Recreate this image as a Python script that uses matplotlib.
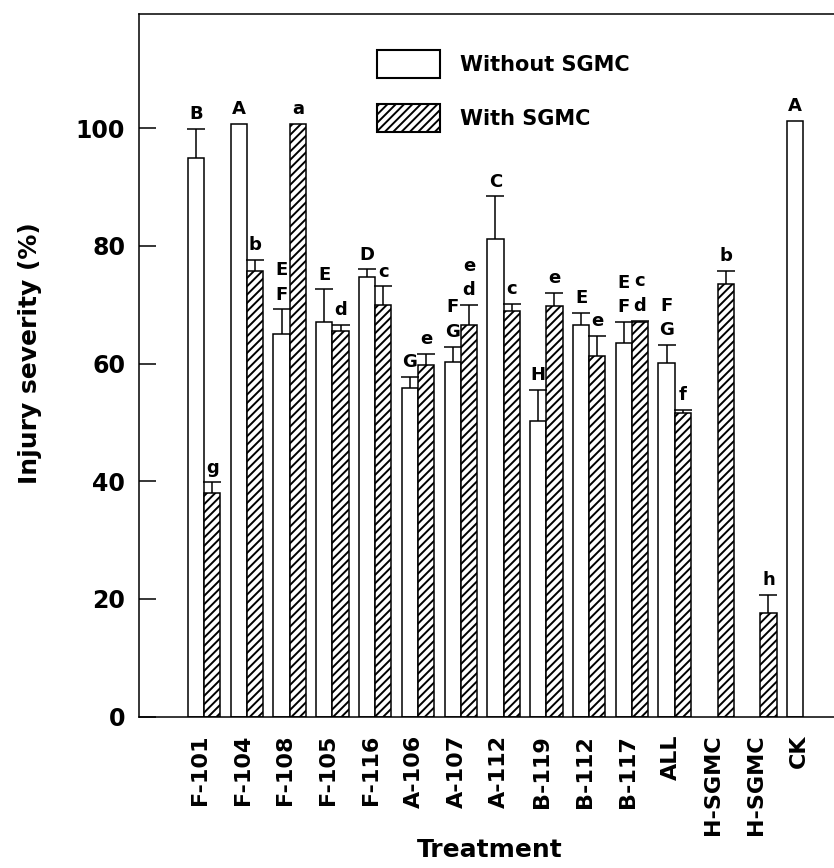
import numpy as np
import matplotlib
matplotlib.use('Agg')
import matplotlib.pyplot as plt
from matplotlib.patches import Patch

nan = np.nan

# treatments along the x axis
treatments = ['F-101', 'F-104', 'F-108', 'F-105', 'F-116', 'A-106', 'A-107', 'A-112',
              'B-119', 'B-112', 'B-117', 'ALL', 'H-SGMC', 'H-SGMC', 'CK']

# injury severity (%) without SGMC and its error
without_sgmc = [94.9, 100.7, 65.0, 67.0, 74.7, 55.8, 60.2, 81.1, 50.3, 66.5, 63.5, 60.1, nan, nan, 101.3]
without_err = [4.9, 0, 4.2, 5.6, 1.3, 2.0, 2.7, 7.3, 5.2, 2.1, 3.5, 3.1, nan, nan, 0]

# injury severity (%) with SGMC and its error
with_sgmc = [38.0, 75.8, 100.7, 65.6, 70.0, 59.7, 66.6, 68.9, 69.7, 61.3, 67.0, 51.6, 73.5, 17.7, nan]
with_err = [1.8, 1.8, 0, 1.0, 3.1, 1.9, 3.4, 1.2, 2.3, 3.4, 0.3, 0.5, 2.2, 3.0, nan]

# significance letters
without_letters = ['B', 'A', 'E\nF', 'E', 'D', 'G', 'F\nG', 'C', 'H', 'E', 'E\nF', 'F\nG', '', '', 'A']
with_letters = ['g', 'b', 'a', 'd', 'c', 'e', 'e\nd', 'c', 'e', 'e', 'c\nd', 'f', 'b', 'h', '']

plt.rcParams['font.family'] = 'DejaVu Sans'
plt.rcParams['font.weight'] = 'bold'
plt.rcParams['hatch.linewidth'] = 1.4

fig = plt.figure(figsize=(8.34, 8.68), dpi=100)
ax = fig.add_axes([0.1667, 0.1743, 0.8465, 0.8096])

x = np.arange(len(treatments))
w = 0.38
lw = 1.1

ax.bar(x - w / 2, without_sgmc, w, color='white', edgecolor='black', linewidth=lw)
ax.bar(x + w / 2, with_sgmc, w, color='white', edgecolor='black', linewidth=lw, hatch='////')


def draw_errors(pos, vals, errs):
    pos = np.asarray(pos)
    vals = np.asarray(vals, dtype=float)
    errs = np.asarray(errs, dtype=float)
    keep = np.isfinite(vals) & (np.nan_to_num(errs) > 0)
    eb = ax.errorbar(pos[keep], vals[keep], yerr=[np.zeros(keep.sum()), errs[keep]],
                     fmt='none', ecolor='black', elinewidth=lw, capsize=6.5, capthick=lw)
    # only the upper cap is shown
    eb[1][0].set_visible(False)


draw_errors(x - w / 2, without_sgmc, without_err)
draw_errors(x + w / 2, with_sgmc, with_err)


def draw_letters(pos, vals, errs, letters):
    for p, v, e, t in zip(pos, vals, errs, letters):
        if not t or np.isnan(v):
            continue
        ax.text(p, v + np.nan_to_num(e) + 1.0, t, ha='center', va='bottom',
                fontsize=13, fontweight='bold', linespacing=1.45)


draw_letters(x - w / 2, without_sgmc, without_err, without_letters)
draw_letters(x + w / 2, with_sgmc, with_err, with_letters)

ax.set_xlim(-1.52, 14.98)
ax.set_ylim(0, 119.4)
ax.set_yticks([0, 20, 40, 60, 80, 100])
ax.tick_params(axis='y', direction='in', length=12, width=lw, pad=10, labelsize=17)
ax.set_xticks(x - 0.1)
ax.set_xticklabels(treatments, rotation=90, fontsize=16, fontweight='bold')
ax.tick_params(axis='x', length=0, pad=13)

for s in ax.spines.values():
    s.set_linewidth(lw)
ax.spines['right'].set_visible(False)

ax.set_ylabel('Injury severity (%)', fontsize=18, fontweight='bold')
ax.yaxis.set_label_coords(-0.137, 0.5176)
ax.set_xlabel('Treatment', fontsize=18, fontweight='bold')
ax.xaxis.set_label_coords(0.497, -0.1726)

handles = [Patch(facecolor='white', edgecolor='black', linewidth=1.5, label='Without SGMC'),
           Patch(facecolor='white', edgecolor='black', linewidth=1.5, hatch='////', label='With SGMC')]
fig.legend(handles=handles, loc='upper left', bbox_to_anchor=(377 / 834, 1 - 50 / 868),
           frameon=False, fontsize=15, handlelength=3.03, handleheight=1.7,
           labelspacing=1.25, handletextpad=0.96, borderpad=0, borderaxespad=0)

fig.savefig('out.png', dpi=100)
